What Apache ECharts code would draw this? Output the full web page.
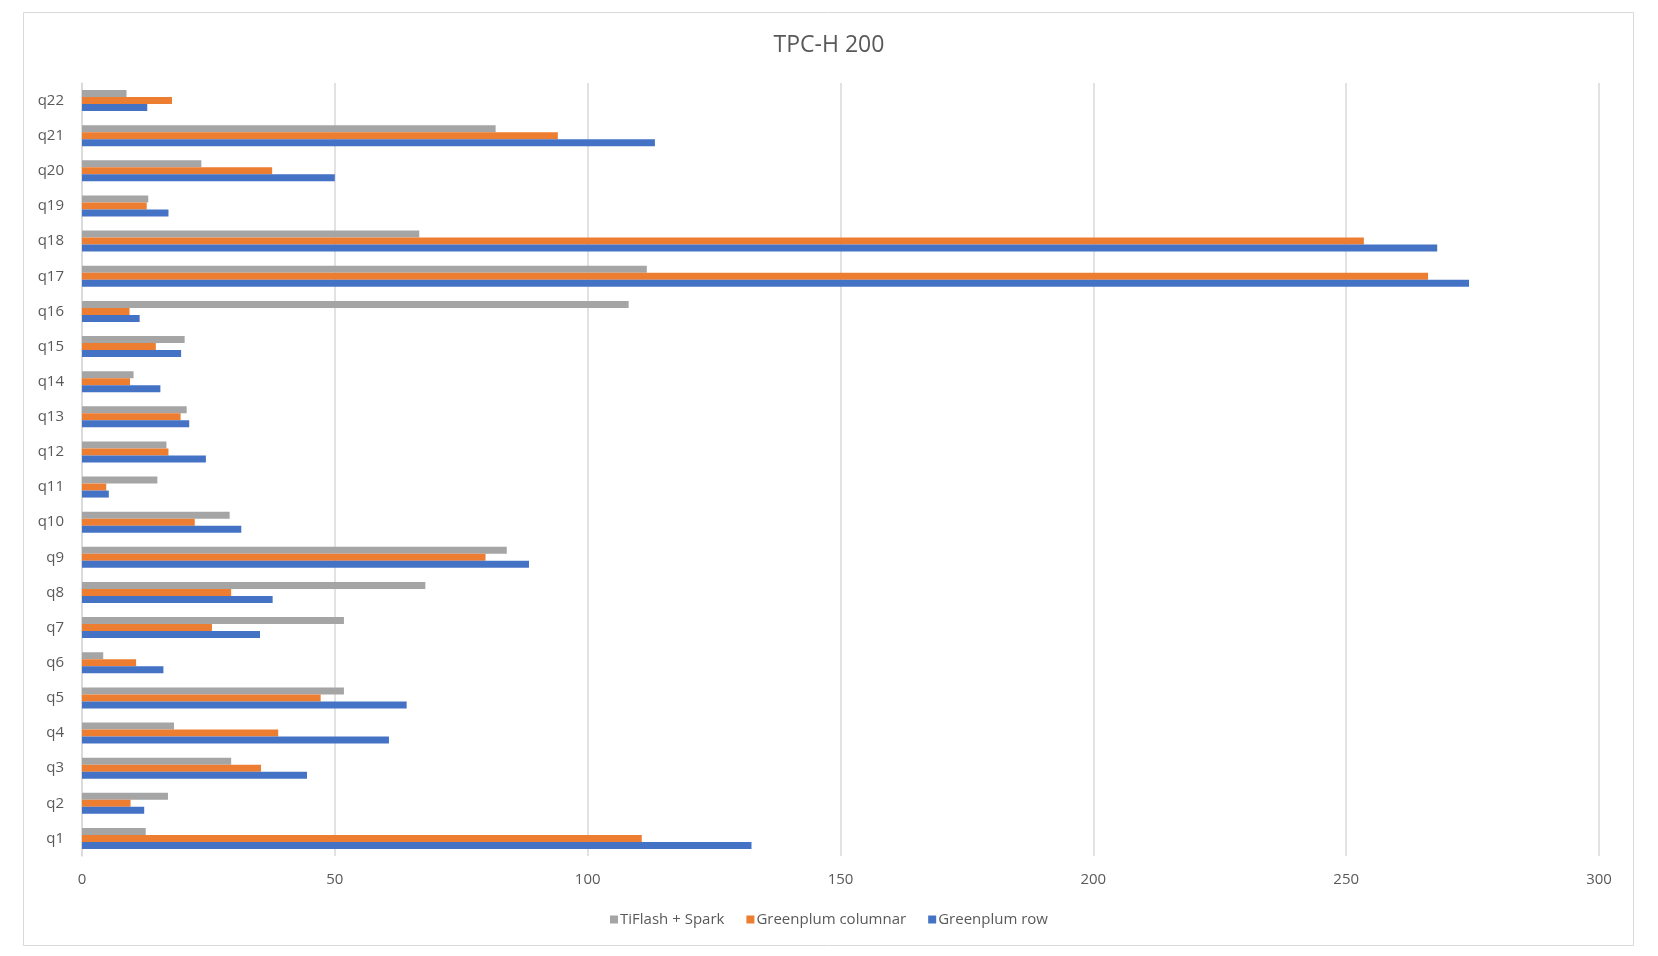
<!DOCTYPE html>
<html>
<head>
<meta charset="utf-8">
<title>TPC-H 200</title>
<script src="https://cdn.jsdelivr.net/npm/echarts@6/dist/echarts.min.js"></script>
<style>
  html, body { margin: 0; padding: 0; background: #fff; }
  #main { width: 1658px; height: 956px; }
</style>
</head>
<body>
<div id="main"></div>
<script>
// 查询编号
var queries = ['q1', 'q2', 'q3', 'q4', 'q5', 'q6', 'q7', 'q8', 'q9', 'q10', 'q11',
  'q12', 'q13', 'q14', 'q15', 'q16', 'q17', 'q18', 'q19', 'q20', 'q21', 'q22'];
// 各引擎耗时
var greenplumRow = [132.4, 12.3, 44.5, 60.7, 64.2, 16.1, 35.2, 37.7, 88.4, 31.5, 5.3,
  24.5, 21.2, 15.5, 19.6, 11.4, 274.3, 268.0, 17.1, 50.0, 113.3, 12.9];
var greenplumColumnar = [110.7, 9.6, 35.4, 38.8, 47.2, 10.7, 25.7, 29.5, 79.8, 22.3, 4.8,
  17.1, 19.5, 9.5, 14.6, 9.4, 266.2, 253.5, 12.8, 37.6, 94.1, 17.8];
var tiflashSpark = [12.6, 17.0, 29.5, 18.2, 51.8, 4.2, 51.8, 67.9, 84.0, 29.2, 14.9,
  16.7, 20.7, 10.2, 20.3, 108.1, 111.7, 66.7, 13.1, 23.6, 81.8, 8.8];
var xTicks = [0, 50, 100, 150, 200, 250, 300];

var textColor = '#595959';
var font = 'Open Sans';

var myChart = echarts.init(document.getElementById('main'));

function barSeries(name, data, color) {
  return {
    name: name,
    type: 'bar',
    data: data,
    barWidth: 7,
    barGap: '0%',
    itemStyle: { color: color },
    animation: false
  };
}

myChart.setOption({
  textStyle: { fontFamily: font },
  title: {
    text: 'TPC-H 200',
    left: 'center',
    top: 29,
    textStyle: { fontFamily: font, fontSize: 23, fontWeight: 'normal', color: textColor }
  },
  graphic: [{
    type: 'rect',
    shape: { x: 23.5, y: 12.5, width: 1610, height: 933 },
    style: { fill: 'none', stroke: '#d9d9d9', lineWidth: 1 },
    silent: true
  }],
  legend: {
    data: ['TiFlash + Spark', 'Greenplum columnar', 'Greenplum row'],
    bottom: 24,
    left: 'center',
    icon: 'rect',
    itemWidth: 8,
    itemHeight: 8,
    itemGap: 22,
    textStyle: { fontFamily: font, fontSize: 15, color: textColor, padding: [0, 0, 0, -3] }
  },
  grid: { left: 82, right: 59, top: 83, bottom: 100, containLabel: false },
  xAxis: {
    type: 'value',
    min: xTicks[0],
    max: xTicks[xTicks.length - 1],
    interval: 50,
    axisLine: { show: false },
    axisTick: { show: false },
    axisLabel: { color: textColor, fontSize: 15, fontFamily: font, margin: 16 },
    splitLine: { show: true, lineStyle: { color: '#d9d9d9', width: 1.5 } }
  },
  yAxis: {
    type: 'category',
    data: queries,
    axisLine: { show: true, lineStyle: { color: '#d9d9d9', width: 1.5 } },
    axisTick: { show: false },
    axisLabel: { color: textColor, fontSize: 15, fontFamily: font, margin: 18 }
  },
  // 第一个系列画在每组最上方
  series: [
    barSeries('TiFlash + Spark', tiflashSpark, '#A5A5A5'),
    barSeries('Greenplum columnar', greenplumColumnar, '#ED7D31'),
    barSeries('Greenplum row', greenplumRow, '#4472C4')
  ]
});
</script>
</body>
</html>
